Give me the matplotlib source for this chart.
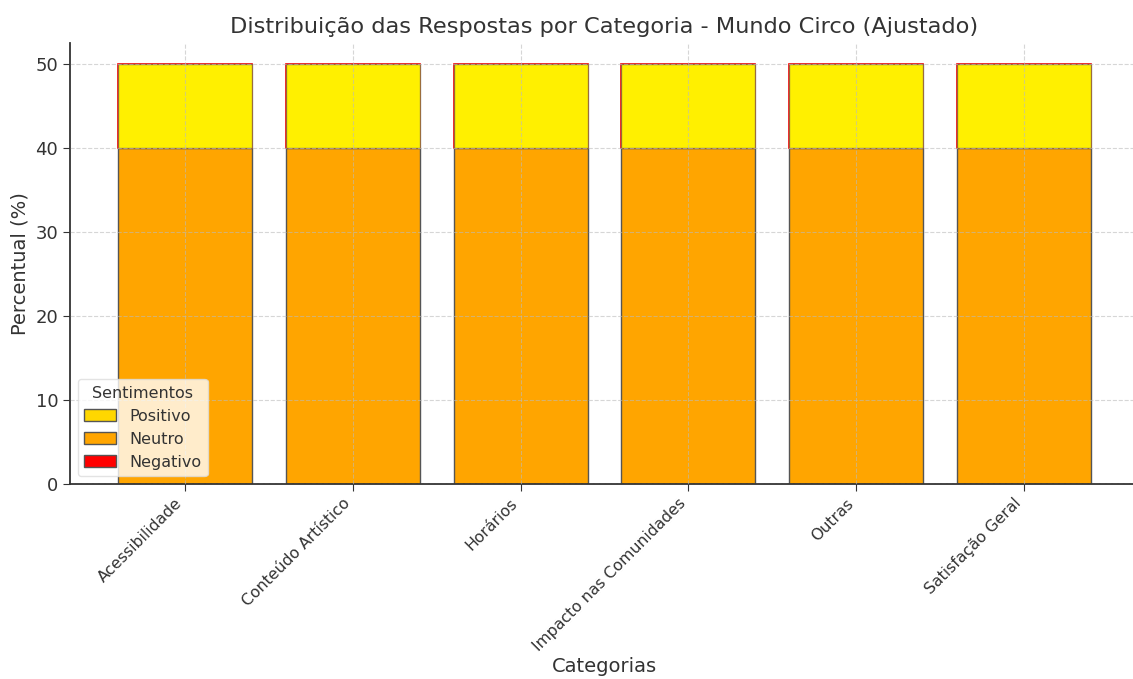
import matplotlib
matplotlib.use("Agg")
import matplotlib.pyplot as plt
from matplotlib.patches import Patch
import numpy as np

categories = ["Acessibilidade", "Conteúdo Artístico", "Horários",
              "Impacto nas Comunidades", "Outras", "Satisfação Geral"]
neutro = [40, 40, 40, 40, 40, 40]
negativo = [10, 10, 10, 10, 10, 10]
positivo = [10, 10, 10, 10, 10, 10]
legend_labels = ["Positivo", "Neutro", "Negativo"]
legend_colors = ["#FFD700", "#FFA500", "#FF0000"]

text_color = "#333333"
plt.rcParams["font.family"] = ["DejaVu Sans"]
plt.rcParams["text.color"] = text_color
plt.rcParams["axes.labelcolor"] = text_color
plt.rcParams["xtick.color"] = text_color
plt.rcParams["ytick.color"] = text_color

fig = plt.figure(figsize=(11.33, 6.79), dpi=100)
ax = fig.add_axes([70 / 1133, 195 / 679, (1139 - 70) / 1133, (484 - 43) / 679])

x = np.arange(len(categories))
w = 0.8
ax.bar(x, neutro, w, color="#FFA500", edgecolor="#555555", linewidth=1.0)
ax.bar(x, negativo, w, bottom=neutro, color="#FF0000", edgecolor="#FF0000", linewidth=1.2)
ax.bar(x, positivo, w, bottom=neutro, color="#FFF000",
       edgecolor=(0.35, 0.35, 0.35, 0.6), linewidth=1.0)

ax.set_axisbelow(False)
ax.grid(True, linestyle="--", color="#bbbbbb", linewidth=0.8, alpha=0.6)

ax.set_xlim(-0.686, 5.686)
ax.set_ylim(0, 52.5)
ax.set_yticks([0, 10, 20, 30, 40, 50])
ax.set_xticks(x)
ax.set_xticklabels(categories, rotation=45, ha="right", fontsize=11.3)
ax.tick_params(axis="y", labelsize=13, length=5, color=text_color)
ax.tick_params(axis="x", length=5, color=text_color)

for s in ["top", "right"]:
    ax.spines[s].set_visible(False)
for s in ["left", "bottom"]:
    ax.spines[s].set_color(text_color)
    ax.spines[s].set_linewidth(1.3)

ax.set_title("Distribuição das Respostas por Categoria - Mundo Circo (Ajustado)",
             fontsize=16.2, color=text_color, pad=7)
ax.set_xlabel("Categorias", fontsize=14, labelpad=2)
ax.set_ylabel("Percentual (%)", fontsize=14)

handles = [Patch(facecolor=c, edgecolor="#555555", linewidth=1.0) for c in legend_colors]
leg = ax.legend(handles, legend_labels, title="Sentimentos", loc="lower left",
                fontsize=11.5, title_fontsize=11.5, framealpha=0.8,
                bbox_to_anchor=(0.0, 0.0))
leg.get_frame().set_edgecolor("#dddddd")

fig.savefig("out.png", dpi=100)
